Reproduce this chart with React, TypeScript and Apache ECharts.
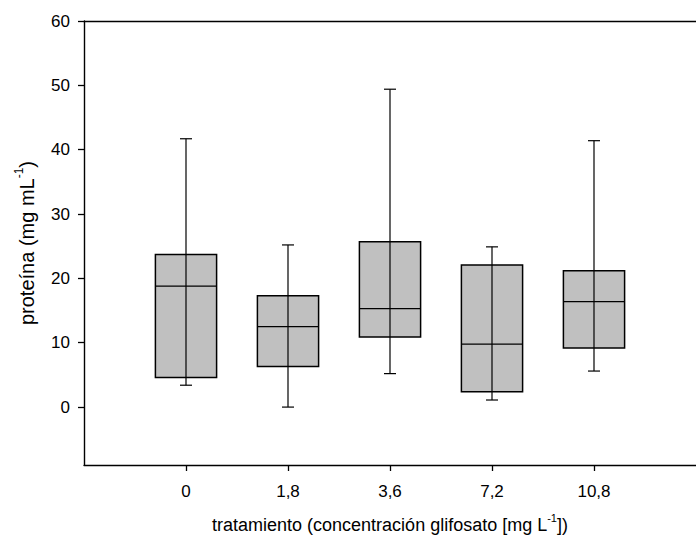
import React, { useEffect, useRef } from "react";
import * as echarts from "echarts";

const categories = ["0", "1,8", "3,6", "7,2", "10,8"];
const positions = [1, 2, 3, 4, 5];
const whiskerLow = [3.4, 0.0, 5.2, 1.1, 5.6];
const quartile1 = [4.6, 6.3, 10.9, 2.4, 9.2];
const median = [18.8, 12.5, 15.3, 9.8, 16.4];
const quartile3 = [23.7, 17.3, 25.7, 22.1, 21.2];
const whiskerHigh = [41.7, 25.2, 49.4, 24.9, 41.4];
const yTicks = [0, 10, 20, 30, 40, 50, 60];

const FONT = "'Liberation Sans', Arial, sans-serif";

export default function App() {
  const ref = useRef<HTMLDivElement>(null);

  useEffect(() => {
    document.body.style.margin = "0";
    if (!ref.current) return;
    const chart = echarts.init(ref.current, null, { renderer: "svg" });

    const data = positions.map((p, i) => [
      p,
      whiskerLow[i],
      quartile1[i],
      median[i],
      quartile3[i],
      whiskerHigh[i],
    ]);

    chart.setOption({
      animation: false,
      backgroundColor: "#ffffff",
      textStyle: { fontFamily: FONT, color: "#000" },
      grid: { left: 84, right: -6, top: 21, bottom: 79, containLabel: false },
      xAxis: [
        {
          type: "value",
          min: 0,
          max: 6,
          position: "bottom",
          splitLine: { show: false },
          axisLine: { show: true, onZero: false, lineStyle: { color: "#000", width: 1.4 } },
          axisTick: {
            show: true,
            customValues: positions,
            length: 6,
            lineStyle: { color: "#000", width: 1.3 },
          },
          axisLabel: {
            customValues: positions,
            formatter: (v: number) => categories[Math.round(v) - 1] ?? "",
            color: "#000",
            fontSize: 17,
            fontFamily: FONT,
            margin: 18,
          },
          name: "{a|tratamiento (concentración glifosato [mg L}{s|-1}{a|])}",
          nameLocation: "middle",
          nameGap: 47,
          nameTextStyle: {
            color: "#000",
            fontFamily: FONT,
            rich: {
              a: { fontSize: 18, fontFamily: FONT, color: "#000", lineHeight: 22, verticalAlign: "bottom" },
              s: { fontSize: 11, fontFamily: FONT, color: "#000", lineHeight: 22, verticalAlign: "top" },
            },
          },
        },
        {
          type: "value",
          min: 0,
          max: 6,
          position: "top",
          splitLine: { show: false },
          axisLine: { show: true, onZero: false, lineStyle: { color: "#000", width: 1.4 } },
          axisTick: { show: false },
          axisLabel: { show: false },
        },
      ],
      yAxis: {
        type: "value",
        min: -9,
        max: 60,
        splitLine: { show: false },
        axisLine: { show: true, onZero: false, lineStyle: { color: "#000", width: 1.4 } },
        axisTick: {
          show: true,
          customValues: yTicks,
          length: 6,
          lineStyle: { color: "#000", width: 1.3 },
        },
        axisLabel: {
          customValues: yTicks,
          color: "#000",
          fontSize: 17,
          fontFamily: FONT,
          margin: 14,
        },
      },
      graphic: [
        {
          type: "text",
          x: 25,
          y: 243,
          rotation: Math.PI / 2,
          style: {
            text: "{a|proteína (mg mL}{s|-1}{a|)}",
            align: "center",
            verticalAlign: "middle",
            rich: {
              a: { fontSize: 20, fontFamily: FONT, fill: "#000", lineHeight: 24, verticalAlign: "bottom" },
              s: { fontSize: 12, fontFamily: FONT, fill: "#000", lineHeight: 24, verticalAlign: "top" },
            },
          },
        },
      ],
      series: [
        {
          type: "custom",
          xAxisIndex: 0,
          yAxisIndex: 0,
          data,
          clip: false,
          renderItem: (params: any, api: any) => {
            const x = api.value(0);
            const lo = api.coord([x, api.value(1)]);
            const q1 = api.coord([x, api.value(2)]);
            const med = api.coord([x, api.value(3)]);
            const q3 = api.coord([x, api.value(4)]);
            const hi = api.coord([x, api.value(5)]);
            const bw = api.size([1, 0])[0] * 0.6;
            const cw = 12;
            const cx = lo[0];
            return {
              type: "group",
              children: [
                {
                  type: "rect",
                  shape: { x: cx - bw / 2, y: q3[1], width: bw, height: q1[1] - q3[1] },
                  style: { fill: "#c0c0c0", stroke: "#000", lineWidth: 1.5 },
                },
                {
                  type: "line",
                  shape: { x1: cx, y1: hi[1], x2: cx, y2: lo[1] },
                  style: { stroke: "#000", lineWidth: 1.2 },
                },
                {
                  type: "line",
                  shape: { x1: cx - bw / 2, y1: med[1], x2: cx + bw / 2, y2: med[1] },
                  style: { stroke: "#000", lineWidth: 1.2 },
                },
                {
                  type: "line",
                  shape: { x1: cx - cw / 2, y1: hi[1], x2: cx + cw / 2, y2: hi[1] },
                  style: { stroke: "#000", lineWidth: 1.2 },
                },
                {
                  type: "line",
                  shape: { x1: cx - cw / 2, y1: lo[1], x2: cx + cw / 2, y2: lo[1] },
                  style: { stroke: "#000", lineWidth: 1.2 },
                },
              ],
            };
          },
        },
      ],
    });

    return () => chart.dispose();
  }, []);

  return <div ref={ref} style={{ width: 696, height: 544 }} />;
}
